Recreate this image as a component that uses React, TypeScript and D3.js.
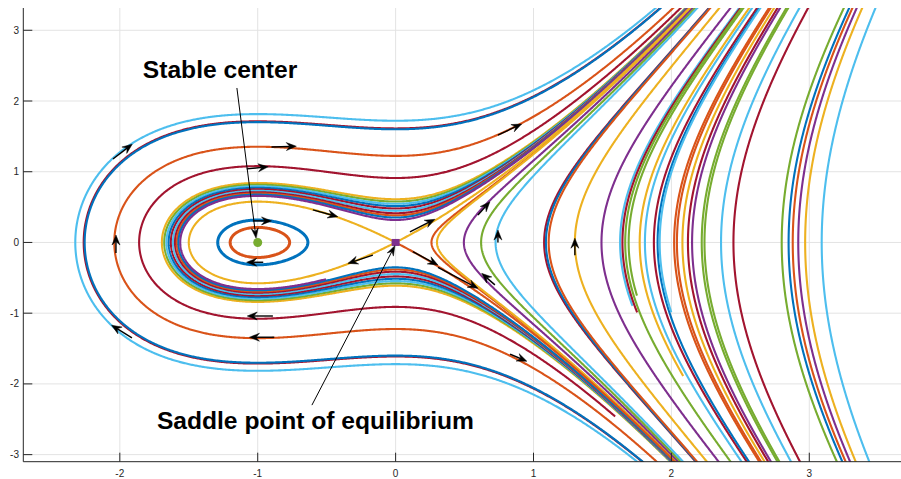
import React from "react";
import * as d3 from "d3";

// ---------- Chart data ----------
// Phase portrait of x' = y, y' = x + x^2 (centre at (-1,0), saddle at (0,0)).
const xTicks = [-2, -1, 0, 1, 2, 3];
const yTicks = [-3, -2, -1, 0, 1, 2, 3];

const PALETTE: Record<string, string> = {
  blue: "#0072BD",
  orange: "#D95319",
  yellow: "#EDB120",
  purple: "#7E2F8E",
  green: "#77AC30",
  lblue: "#4DBEEE",
  red: "#A2142F",
};

// Right-hand family: x where each trajectory crosses y = 0 (x > 0)
const rightCross = [0.26, 0.3, 0.495, 0.62, 0.725, 1.077, 1.09, 1.11, 1.3, 1.493, 1.628, 1.645, 1.665, 1.69, 1.77, 1.808, 1.873, 1.9, 1.915, 2.02, 2.04, 2.08, 2.12, 2.15, 2.22, 2.24, 2.36, 2.45, 2.8, 2.85, 2.88, 2.92, 2.97, 3.09];
const rightColors = ["orange", "yellow", "purple", "green", "lblue", "red", "blue", "orange", "yellow", "purple", "lblue", "red", "green", "green", "yellow", "lblue", "red", "blue", "lblue", "orange", "orange", "yellow", "red", "purple", "green", "green", "lblue", "red", "green", "blue", "orange", "purple", "yellow", "lblue"];
// lowest y reached by the lower end (null = runs to the axes edge)
const rightLowEnd: (number | null)[] = [null, null, null, null, null, null, null, null, null, null, -0.89, -0.985, null, -0.745, -1.875, null, null, null, -0.985, null, null, null, null, null, null, null, null, null, null, null, null, null, null, null];

// Left-hand family (curves wrapping round the centre): leftmost crossing of y = 0
const leftCross = [-2.323, -2.262, -2.255, -2.04, -1.86, -1.695, -1.678, -1.662, -1.646, -1.63, -1.615, -1.6, -1.587, -1.575, -1.562];
const leftColors = ["lblue", "red", "blue", "orange", "red", "yellow", "green", "lblue", "blue", "red", "lblue", "red", "orange", "blue", "purple"];
// largest x reached by the lower half (null = runs to the axes edge)
const leftLowEnd: (number | null)[] = [null, null, null, null, 1.59, null, null, null, null, null, null, null, null, null, -0.51];

// Closed orbits around the centre: left crossing of y = 0
const orbitCross = [-1.29, -1.2];
const orbitColors = ["blue", "orange"];

// Separatrices through the saddle: seed points
const sepSeeds: [number, number][] = [[-1.5, 0], [0.5, 0.5774], [0.5, -0.5774]];
const sepColors = ["yellow", "yellow", "orange"];

// Equilibria
const centre: [number, number] = [-1, 0];
const saddle: [number, number] = [0, 0];

// Direction arrows: [tailX, tailY, headX, headY]
const flowArrows: [number, number, number, number][] = [
  [-2.05, 1.18, -1.91, 1.39],
  [-2.028, -0.15, -2.028, 0.105],
  [-1.912, -1.35, -2.06, -1.17],
  [-1.08, 1.04, -0.924, 1.07],
  [-0.9, 1.35, -0.72, 1.36],
  [-1.035, 0.305, -0.9, 0.305],
  [-0.96, -0.28, -1.08, -0.28],
  [-0.6, 0.46, -0.419, 0.364],
  [0.104, 0.151, 0.285, 0.327],
  [-0.165, -0.178, -0.346, -0.296],
  [0.125, -0.13, 0.307, -0.32],
  [0.307, -0.352, 0.597, -0.649],
  [0.597, 0.388, 0.684, 0.576],
  [0.72, -0.6, 0.624, -0.437],
  [0.742, 0.0, 0.742, 0.175],
  [1.3, -0.18, 1.3, 0.06],
  [0.742, 1.519, 0.914, 1.675],
  [0.83, -1.58, 0.952, -1.68],
  [-0.89, -1.04, -1.076, -1.04],
  [-0.88, -1.34, -1.06, -1.34],
];

// Annotations
const labels = ["Stable center", "Saddle point of equilibrium"];
const labelPos: [number, number][] = [[-1.833, 2.325], [-1.731, -2.631]];
const labelArrows: [number, number, number, number][] = [
  [-1.151, 2.184, -1.012, 0.06],
  [-0.607, -2.3, -0.005, -0.045],
];

// ---------- Layout ----------
const W = 901;
const H = 479;
const X_DOMAIN: [number, number] = [-2.7, 3.66];
const Y_DOMAIN: [number, number] = [-3.1, 3.315];
const PLOT = { left: 23.3, right: 900.3, top: 8, bottom: 461.7 };

const xS = d3.scaleLinear().domain(X_DOMAIN).range([PLOT.left, PLOT.right]);
const yS = d3.scaleLinear().domain(Y_DOMAIN).range([PLOT.bottom, PLOT.top]);
const KX = xS(1) - xS(0);
const KY = yS(0) - yS(1);

type Pt = [number, number];
type Stop = (x: number, y: number, i: number) => boolean;

function field(x: number, y: number): Pt {
  return [y, x + x * x];
}

// integrate the flow with a unit screen-speed parametrisation
function trace(x0: number, y0: number, dir: number, stop: Stop, maxSteps = 6000): Pt[] {
  const h = 1.0;
  const f = (x: number, y: number): Pt => {
    const [u, v] = field(x, y);
    const s = Math.hypot(u * KX, v * KY) || 1e-12;
    return [(dir * u) / s, (dir * v) / s];
  };
  const pts: Pt[] = [[x0, y0]];
  let x = x0,
    y = y0;
  for (let i = 0; i < maxSteps; i++) {
    const k1 = f(x, y);
    const k2 = f(x + (h / 2) * k1[0], y + (h / 2) * k1[1]);
    const k3 = f(x + (h / 2) * k2[0], y + (h / 2) * k2[1]);
    const k4 = f(x + h * k3[0], y + h * k3[1]);
    x += (h / 6) * (k1[0] + 2 * k2[0] + 2 * k3[0] + k4[0]);
    y += (h / 6) * (k1[1] + 2 * k2[1] + 2 * k3[1] + k4[1]);
    pts.push([x, y]);
    if (stop(x, y, i)) break;
  }
  return pts;
}

const outBox = (x: number, y: number) => x < X_DOMAIN[0] - 0.1 || x > X_DOMAIN[1] + 0.1 || y < Y_DOMAIN[0] - 0.1 || y > Y_DOMAIN[1] + 0.1;
const nearSaddle = (x: number, y: number) => Math.hypot((x - saddle[0]) * KX, (y - saddle[1]) * KY) < 0.8;

function twoWay(x0: number, y0: number, stop: Stop): Pt[] {
  const fwd = trace(x0, y0, 1, stop);
  const bwd = trace(x0, y0, -1, stop);
  return bwd.reverse().concat(fwd.slice(1));
}

const line = d3
  .line<Pt>()
  .x((d) => xS(d[0]))
  .y((d) => yS(d[1]));

type Curve = { d: string; color: string; w: number };

function buildCurves(): Curve[] {
  const out: Curve[] = [];
  rightCross.forEach((x0, i) => {
    const lo = rightLowEnd[i];
    const stop: Stop = (x, y) => outBox(x, y) || (lo !== null && y < lo);
    out.push({ d: line(twoWay(x0, 0, stop)) || "", color: PALETTE[rightColors[i]], w: 2.1 });
  });
  leftCross.forEach((x0, i) => {
    const lo = leftLowEnd[i];
    const stop: Stop = (x, y) => outBox(x, y) || (lo !== null && y < 0 && x > lo);
    out.push({ d: line(twoWay(x0, 0, stop)) || "", color: PALETTE[leftColors[i]], w: 2.1 });
  });
  sepSeeds.forEach(([x0, y0], i) => {
    const stop: Stop = (x, y) => outBox(x, y) || nearSaddle(x, y);
    const pts = twoWay(x0, y0, stop);
    out.push({ d: line(pts) || "", color: PALETTE[sepColors[i]], w: 2.1 });
  });
  orbitCross.forEach((x0, i) => {
    const sx = xS(x0);
    const stop: Stop = (x, y, k) => k > 30 && Math.hypot(xS(x) - sx, yS(y) - yS(0)) < 1.0;
    const pts = trace(x0, 0, 1, stop);
    out.push({ d: (line(pts) || "") + "Z", color: PALETTE[orbitColors[i]], w: 3 });
  });
  return out;
}

function Arrow({ a, width = 1.4, len = 10, half = 4 }: { a: [number, number, number, number]; width?: number; len?: number; half?: number }) {
  const x1 = xS(a[0]),
    y1 = yS(a[1]),
    x2 = xS(a[2]),
    y2 = yS(a[3]);
  const L = Math.hypot(x2 - x1, y2 - y1) || 1;
  const dx = (x2 - x1) / L,
    dy = (y2 - y1) / L;
  const nx = -dy,
    ny = dx;
  const bx = x2 - len * dx,
    by = y2 - len * dy;
  const mx = x2 - 0.65 * len * dx,
    my = y2 - 0.65 * len * dy;
  const head = `M${x2},${y2}L${bx + half * nx},${by + half * ny}L${mx},${my}L${bx - half * nx},${by - half * ny}Z`;
  return (
    <g>
      <line x1={x1} y1={y1} x2={mx} y2={my} stroke="#000" strokeWidth={width} />
      <path d={head} fill="#000" stroke="#000" strokeWidth={0.5} strokeLinejoin="miter" />
    </g>
  );
}

export default function App() {
  const curves = React.useMemo(buildCurves, []);
  const font = "'Liberation Sans', Arial, Helvetica, sans-serif";
  return (
    <svg width={W} height={H} style={{ position: "fixed", left: 0, top: 0, background: "#fff" }} xmlns="http://www.w3.org/2000/svg">
      <defs>
        <clipPath id="plotClip">
          <rect x={PLOT.left} y={PLOT.top} width={W - PLOT.left} height={PLOT.bottom - PLOT.top} />
        </clipPath>
      </defs>
      <rect x={0} y={0} width={W} height={H} fill="#fff" />
      {/* grid */}
      <g stroke="#e3e3e3" strokeWidth={1}>
        {xTicks.map((t) => (
          <line key={"gx" + t} x1={xS(t)} x2={xS(t)} y1={PLOT.top} y2={PLOT.bottom} />
        ))}
        {yTicks.map((t) => (
          <line key={"gy" + t} x1={PLOT.left} x2={W} y1={yS(t)} y2={yS(t)} />
        ))}
      </g>
      {/* trajectories */}
      <g clipPath="url(#plotClip)" fill="none" strokeLinejoin="round" strokeLinecap="butt">
        {curves.map((c, i) => (
          <path key={i} d={c.d} stroke={c.color} strokeWidth={c.w} />
        ))}
      </g>
      {/* flow arrows */}
      {flowArrows.map((a, i) => (
        <Arrow key={"fa" + i} a={a} />
      ))}
      {/* equilibria */}
      <circle cx={xS(centre[0])} cy={yS(centre[1])} r={4.5} fill={PALETTE.green} />
      <rect x={xS(saddle[0]) - 4} y={yS(saddle[1]) - 3.5} width={8} height={7} fill={PALETTE.purple} />
      {/* annotations */}
      {labelArrows.map((a, i) => (
        <Arrow key={"la" + i} a={a} width={1} len={10} half={3.5} />
      ))}
      {labels.map((t, i) => (
        <text key={t} x={xS(labelPos[i][0])} y={yS(labelPos[i][1])} fontFamily={font} fontWeight="bold" fontSize={24.6} fill="#000">
          {t}
        </text>
      ))}
      {/* axes */}
      <g stroke="#262626" strokeWidth={1}>
        <line x1={PLOT.left} x2={PLOT.left} y1={PLOT.top} y2={PLOT.bottom} />
        <line x1={PLOT.left} x2={W} y1={PLOT.bottom} y2={PLOT.bottom} />
        {xTicks.map((t) => (
          <line key={"tx" + t} x1={xS(t)} x2={xS(t)} y1={PLOT.bottom} y2={PLOT.bottom - 9} />
        ))}
        {yTicks.map((t) => (
          <line key={"ty" + t} x1={PLOT.left} x2={PLOT.left + 9} y1={yS(t)} y2={yS(t)} />
        ))}
      </g>
      <g fontFamily={font} fontSize={10} fill="#262626">
        {xTicks.map((t) => (
          <text key={"lx" + t} x={xS(t)} y={477} textAnchor="middle">
            {t}
          </text>
        ))}
        {yTicks.map((t) => (
          <text key={"ly" + t} x={19} y={yS(t)} textAnchor="end" dominantBaseline="central">
            {t}
          </text>
        ))}
      </g>
    </svg>
  );
}
